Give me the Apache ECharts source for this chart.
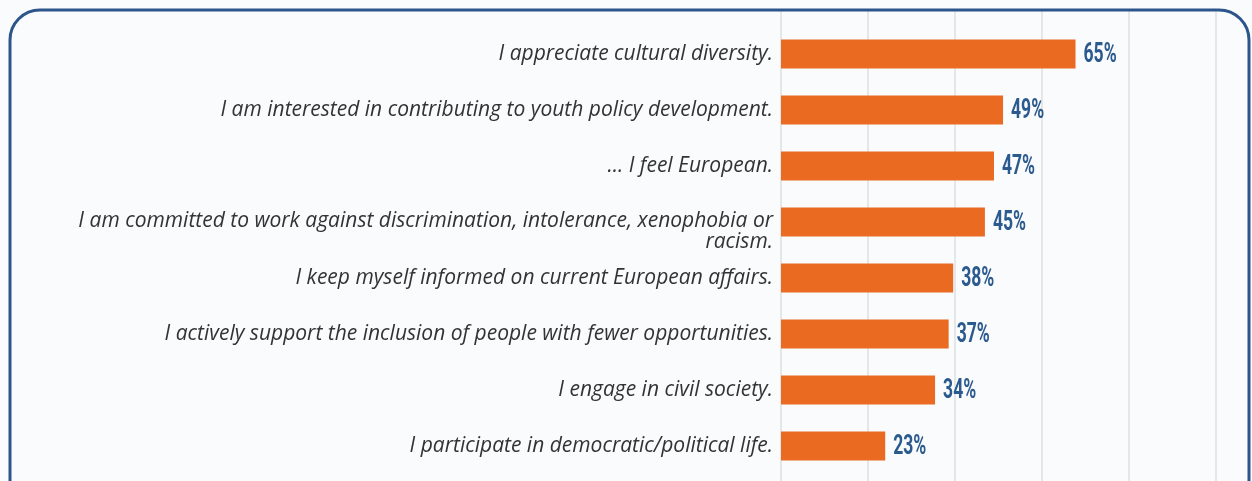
<!DOCTYPE html>
<html>
<head>
<meta charset="utf-8">
<script src="https://cdn.jsdelivr.net/npm/echarts@6/dist/echarts.min.js"></script>
<style>
  html, body { margin: 0; padding: 0; background: #fafbfc; }
  #chart { width: 1252px; height: 481px; }
</style>
</head>
<body>
<div id="chart"></div>
<script>
var categories = [
  'I appreciate cultural diversity.',
  'I am interested in contributing to youth policy development.',
  '... I feel European.',
  'I am committed to work against discrimination, intolerance, xenophobia or\nracism.',
  'I keep myself informed on current European affairs.',
  'I actively support the inclusion of people with fewer opportunities.',
  'I engage in civil society.',
  'I participate in democratic/political life.'
];
var values = [65, 49, 47, 45, 38, 37, 34, 23];

// grid spans x 781..1216, value axis 0..96 so split lines fall ~87px apart
var AXIS_MAX = 96;
var AXIS_STEP = 19.2;

var chart = echarts.init(document.getElementById('chart'));

// percentage labels, drawn narrow like the condensed face of the original
function renderPct(params, api) {
  var p = api.coord([api.value(0), api.value(1)]);
  return {
    type: 'text',
    x: p[0] + 8,
    y: p[1] + 1,
    scaleX: 0.65,
    style: {
      text: api.value(0) + '%',
      fontFamily: 'Roboto',
      fontWeight: 'bold',
      fontSize: 27,
      fill: '#2b5a8e',
      align: 'left',
      verticalAlign: 'middle'
    }
  };
}

var option = {
  backgroundColor: '#fafbfc',
  animation: false,
  graphic: [
    {
      type: 'rect',
      shape: { x: 10, y: 10, width: 1239, height: 500, r: 30 },
      style: { fill: 'none', stroke: '#2c568b', lineWidth: 3 },
      z: 100
    }
  ],
  grid: [
    { left: 781, right: 36, top: 26, height: 448 },
    { left: 781, right: 36, top: 10, bottom: 0 }
  ],
  xAxis: [
    {
      type: 'value', gridIndex: 0, min: 0, max: AXIS_MAX,
      axisLine: { show: false }, axisTick: { show: false },
      axisLabel: { show: false }, splitLine: { show: false }
    },
    {
      type: 'value', gridIndex: 1, min: 0, max: AXIS_MAX, interval: AXIS_STEP,
      axisLine: { show: false }, axisTick: { show: false },
      axisLabel: { show: false },
      splitLine: { show: true, lineStyle: { color: '#dedfe0', width: 1.5 } }
    }
  ],
  yAxis: [
    {
      type: 'category', gridIndex: 0, data: categories, inverse: true,
      axisLine: { show: false }, axisTick: { show: false },
      axisLabel: {
        margin: 8,
        fontFamily: 'Open Sans',
        fontStyle: 'italic',
        fontSize: 21,
        color: '#333333',
        align: 'right',
        lineHeight: 21,
        formatter: function (v) {
          if (v.indexOf('\n') < 0) return '{a|' + v + '}';
          return '{s| }\n{a|' + v.split('\n').join('}\n{a|') + '}';
        },
        rich: {
          a: {
            fontFamily: 'Open Sans', fontStyle: 'italic', fontSize: 21,
            color: '#333333', lineHeight: 21, align: 'right'
          },
          s: { fontSize: 10, lineHeight: 20, align: 'right' }
        }
      }
    },
    {
      type: 'value', gridIndex: 1, min: 0, max: 1, show: false
    }
  ],
  series: [
    {
      type: 'bar',
      xAxisIndex: 0,
      yAxisIndex: 0,
      data: values,
      barWidth: 29,
      itemStyle: { color: '#eb6a22' }
    },
    {
      type: 'custom',
      xAxisIndex: 0,
      yAxisIndex: 0,
      data: values.map(function (v, i) { return [v, i]; }),
      encode: { x: 0, y: 1 },
      renderItem: renderPct,
      z: 5
    }
  ]
};

chart.setOption(option);
</script>
</body>
</html>
